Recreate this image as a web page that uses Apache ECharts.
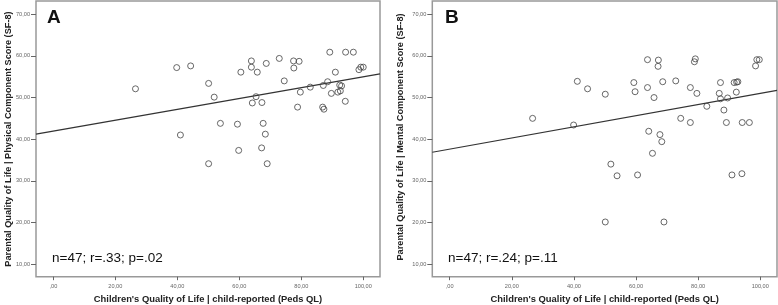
<!DOCTYPE html>
<html><head><meta charset="utf-8">
<script src="https://cdn.jsdelivr.net/npm/echarts@6/dist/echarts.min.js"></script>
<style>html,body{margin:0;padding:0;background:#fff}#c{width:778px;height:305px}</style>
</head><body><div id="c"></div>
<script>
// Panel A: child QoL (x) vs parental physical component score (y)
const childA = [26.5,39.8,44.3,41.0,50.1,51.9,53.9,59.4,59.8,60.5,63.9,63.9,65.8,64.2,65.4,67.3,67.7,68.4,67.2,68.7,72.9,74.5,77.5,79.3,77.6,78.8,79.7,82.9,86.9,87.3,87.1,88.5,89.2,89.7,91.0,91.8,92.6,92.4,93.0,94.3,94.2,96.8,98.6,99.2,100.0,50.1,69.0];
const physA  = [52.1,57.2,57.6,41.0,53.4,50.1,43.8,43.6,37.3,56.1,58.8,57.3,56.1,48.7,50.2,48.8,43.8,41.2,37.9,58.2,59.4,54.0,58.8,58.7,57.1,47.7,51.3,52.5,47.7,47.2,52.9,53.8,60.9,51.0,56.1,51.3,51.6,53.0,52.8,60.9,49.1,60.9,56.7,57.3,57.3,34.1,34.1];
// Panel B: child QoL (x) vs parental mental component score (y)
const childB = [26.7,39.9,41.1,44.4,50.1,59.3,59.7,63.7,63.7,67.2,67.1,64.1,65.8,67.7,68.3,65.3,68.6,72.8,74.4,77.5,79.1,78.8,79.6,77.5,82.8,86.8,87.2,87.2,88.3,89.1,89.5,91.6,92.4,92.8,92.3,94.2,96.5,98.5,98.9,99.7,51.9,53.9,60.5,50.1,69.0,90.9,94.1];
const mentB  = [45.0,43.4,53.9,52.1,50.8,53.6,51.4,52.4,59.1,59.0,57.5,41.9,50.0,41.1,39.4,36.6,53.8,54.0,45.0,52.4,59.3,58.6,51.0,44.0,47.9,51.0,53.6,49.7,47.0,44.0,49.9,53.6,53.7,53.8,51.3,44.0,44.0,57.6,59.1,59.1,34.0,31.2,31.4,20.1,20.1,31.4,31.7];
// Fit lines (intercept, slope)
const fitA = [41.93, 0.1306];
const fitB = [37.6, 0.134];
const xTicks = [0,20,40,60,80,100];
const yTicks = [10,20,30,40,50,60,70];
const panelLetters = ['A','B'];
const statsText = ['n=47; r=.33; p=.02','n=47; r=.24; p=.11'];
const xName = "Children's Quality of Life | child-reported (Peds QL)";
const yNames = ['Parental Quality of Life | Physical Component Score (SF-8)','Parental Quality of Life | Mental Component Score (SF-8)'];

const XMIN = -5.6, XMAX = 105.4, YMIN = 6.95, YMAX = 73.2;
const fmt = v => v === 0 ? ',00' : v.toFixed(2).replace('.', ',');
const font = 'Arial, "Liberation Sans", sans-serif';

function xAxis(i){
  return {type:'value', gridIndex:i, min:XMIN, max:XMAX,
    splitLine:{show:false}, axisLine:{show:false, onZero:false},
    axisTick:{show:true, length:3.5, customValues:xTicks, lineStyle:{color:'#666'}},
    axisLabel:{customValues:xTicks, formatter:fmt, fontSize:5.6, color:'#666', margin:7, fontFamily:font},
    name:xName, nameLocation:'middle', nameGap:17,
    nameTextStyle:{fontSize:9.4, fontWeight:'bold', color:'#222', fontFamily:font}};
}
function yAxis(i){
  return {type:'value', gridIndex:i, min:YMIN, max:YMAX,
    splitLine:{show:false}, axisLine:{show:false, onZero:false},
    axisTick:{show:true, length:5, customValues:yTicks, lineStyle:{color:'#666'}},
    axisLabel:{customValues:yTicks, formatter:fmt, fontSize:5.6, color:'#666', margin:6, fontFamily:font}};
}
function pts(xs, ys){ return xs.map((x,k)=>[x, ys[k]]); }
function fitLine(f){ return [[XMIN, f[0]+f[1]*XMIN],[XMAX, f[0]+f[1]*XMAX]]; }

const scatterStyle = {symbol:'circle', symbolSize:6,
  itemStyle:{color:'rgba(255,255,255,0)', borderColor:'#444', borderWidth:1}};

const chart = echarts.init(document.getElementById('c'), null, {renderer:'canvas'});
chart.setOption({
  animation:false,
  backgroundColor:'#fff',
  grid:[
    {left:36, right:398, top:1, bottom:28.3, outerBoundsMode:'none', containLabel:false, show:true, borderColor:'#999', borderWidth:1.5, backgroundColor:'#fff'},
    {left:432.3, right:1, top:1, bottom:28.3, outerBoundsMode:'none', containLabel:false, show:true, borderColor:'#999', borderWidth:1.5, backgroundColor:'#fff'}
  ],
  xAxis:[xAxis(0), xAxis(1)],
  yAxis:[yAxis(0), yAxis(1)],
  series:[
    Object.assign({type:'scatter', xAxisIndex:0, yAxisIndex:0, data:pts(childA, physA), z:3}, scatterStyle),
    {type:'line', xAxisIndex:0, yAxisIndex:0, data:fitLine(fitA), symbol:'none', lineStyle:{color:'#333', width:1.2}, z:2},
    Object.assign({type:'scatter', xAxisIndex:1, yAxisIndex:1, data:pts(childB, mentB), z:3}, scatterStyle),
    {type:'line', xAxisIndex:1, yAxisIndex:1, data:fitLine(fitB), symbol:'none', lineStyle:{color:'#333', width:1.2}, z:2}
  ],
  graphic:[
    {type:'text', x:8.5, y:139, rotation:Math.PI/2, style:{text:yNames[0], font:'bold 9.2px '+font, fill:'#222', align:'center', verticalAlign:'middle'}},
    {type:'text', x:400, y:137, rotation:Math.PI/2, style:{text:yNames[1], font:'bold 9.2px '+font, fill:'#222', align:'center', verticalAlign:'middle'}},
    {type:'text', left:47, top:8, style:{text:panelLetters[0], font:'bold 19px '+font, fill:'#111'}},
    {type:'text', left:445, top:8, style:{text:panelLetters[1], font:'bold 19px '+font, fill:'#111'}},
    {type:'text', left:52, top:251, style:{text:statsText[0], font:'13.5px '+font, fill:'#111'}},
    {type:'text', left:448, top:251, style:{text:statsText[1], font:'13.5px '+font, fill:'#111'}}
  ]
});
</script></body></html>
